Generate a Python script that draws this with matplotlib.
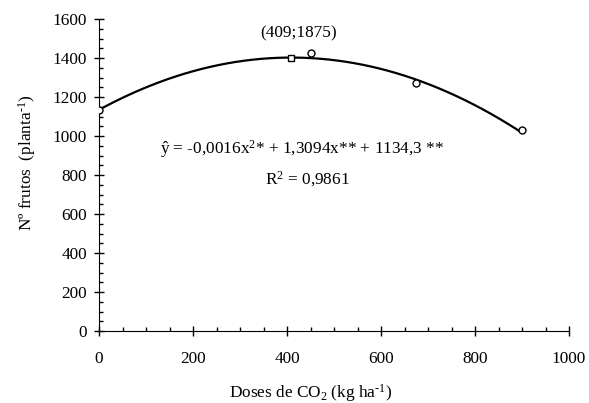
import numpy as np
import matplotlib
matplotlib.use("Agg")
import matplotlib.pyplot as plt
from matplotlib.ticker import MultipleLocator

plt.rcParams['font.family'] = ['Liberation Serif', 'DejaVu Serif']
plt.rcParams['mathtext.fontset'] = 'custom'
plt.rcParams['mathtext.rm'] = 'Liberation Serif'
plt.rcParams['mathtext.it'] = 'Liberation Serif:italic'

# Observed data
doses = [0, 450, 675, 900]
frutos = [1135, 1424, 1270, 1032]

# Fitted quadratic coefficients
coef_a = -0.0016
coef_b = 1.3094
coef_c = 1134.3

# Maximum point
max_x = [409]
max_y = [1402]

FS = 12.4

fig = plt.figure(figsize=(5.89, 4.03), dpi=100)
ax = fig.add_axes([99/589, 1 - 331/403, 470/589, 312/403])

xs = np.linspace(0, 900, 200)
ax.plot(xs, coef_a * xs**2 + coef_b * xs + coef_c, color='black', lw=1.6, zorder=2)
ax.plot(doses, frutos, 'o', mfc='white', mec='black', ms=5, mew=1, zorder=3)
ax.plot(max_x, max_y, 's', mfc='white', mec='black', ms=5, mew=1, zorder=3)

ax.set_xlim(0, 1000)
ax.set_ylim(0, 1600)
ax.xaxis.set_major_locator(MultipleLocator(200))
ax.xaxis.set_minor_locator(MultipleLocator(50))
ax.yaxis.set_major_locator(MultipleLocator(200))
ax.yaxis.set_minor_locator(MultipleLocator(50))
for s in ['top', 'right']:
    ax.spines[s].set_visible(False)
ax.tick_params(which='major', direction='inout', length=7.5, width=1, labelsize=FS)
ax.tick_params(which='minor', direction='in', length=3, width=1)
ax.tick_params(axis='y', pad=5)
ax.tick_params(axis='x', pad=11)

ax.text(424, 1528, '(409;1875)', ha='center', va='center', fontsize=FS)
ax.text(432, 933, 'ŷ = -0,0016x$^{2}$* + 1,3094x** + 1134,3 **', ha='center', va='center', fontsize=FS)
ax.text(443, 780, 'R$^{2}$ = 0,9861', ha='center', va='center', fontsize=FS)

ax.set_xlabel('Doses de CO$_{2}$ (kg ha$^{\\text{-}1}$)', fontsize=FS)
ax.set_ylabel('Nº frutos  (planta$^{\\text{-}1}$)', fontsize=FS)
ax.xaxis.set_label_coords(0.451, -0.165)
ax.yaxis.set_label_coords(-0.129, 0.54)

fig.savefig('out.png', dpi=100)
